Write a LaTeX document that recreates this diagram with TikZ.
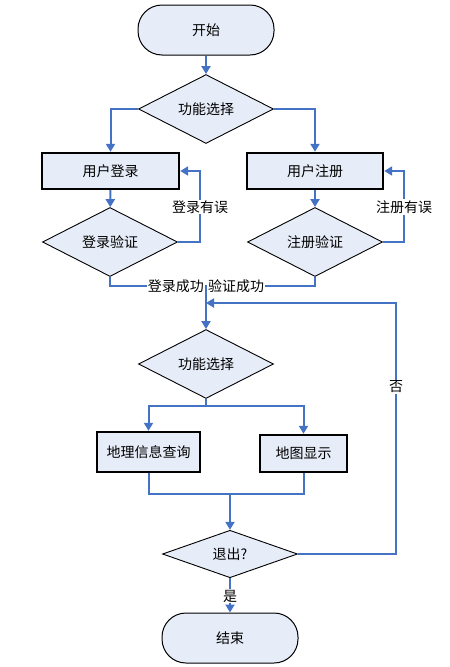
\documentclass[tikz,border=0pt]{standalone}
\usepackage{fontspec}
\setmainfont{Noto Sans CJK SC}
\usetikzlibrary{shapes.geometric,arrows.meta}
\definecolor{flowblue}{RGB}{68,114,196}
\definecolor{boxfill}{RGB}{231,237,248}

\begin{document}
\begin{tikzpicture}[x=1pt,y=-1pt,font=\fontsize{14}{16}\selectfont,
	term/.style={draw,line width=1,fill=boxfill,rounded corners=24,minimum width=136,minimum height=50},
	proc/.style={draw,line width=2.4,fill=boxfill,minimum height=36},
	cond/.style={draw,line width=0.9,fill=boxfill,diamond,inner sep=0,minimum width=135},
	link/.style={draw=flowblue,line width=2},
	flow/.style={link,-{Triangle[length=8,width=9]}},
	tag/.style={fill=white,inner sep=1}]
	\useasboundingbox (0,0) rectangle (450,667);
	% nodes
	\node[term] (start) at (206,30) {开始};
	\node[cond,minimum height=58] (sel1) at (206,109) {功能选择};
	\node[proc,minimum width=137] (login) at (110.5,171) {用户登录};
	\node[proc,minimum width=136] (reg) at (315,171) {用户注册};
	\node[cond,minimum height=52] (chkL) at (110,242) {登录验证};
	\node[cond,minimum height=52] (chkR) at (315,242) {注册验证};
	\node[cond,minimum height=46] (sel2) at (206,364) {功能选择};
	\node[proc,minimum width=103,minimum height=40] (query) at (148.5,452) {地理信息查询};
	\node[proc,minimum width=87,minimum height=37] (show) at (303.5,453.5) {地图显示};
	\node[cond,minimum height=46] (quit) at (230,554) {退出?};
	\node[term] (stop) at (230,638) {结束};
	% free points
	\coordinate (errL) at (200,207);
	\coordinate (errR) at (404,207);
	\coordinate (ok) at (206,286);
	\coordinate (back) at (206,303);
	\coordinate (no) at (396,387);
	\coordinate (split) at (206,406);
	\coordinate (merge) at (230,494);
	% connectors
	\draw[flow] (start) -- (sel1);
	\draw[flow] (sel1.west) -| (login.north);
	\draw[flow] (sel1.east) -| (reg.north);
	\draw[flow] (login) -- (chkL);
	\draw[flow] (reg) -- (chkR);
	\draw[flow] (chkL.east) -| (errL) |- (login.east);
	\draw[flow] (chkR.east) -| (errR) |- (reg.east);
	\draw[link] (chkL.south) |- (ok) -| (chkR.south);
	\draw[flow] (ok) -- (sel2);
	\draw[link] (sel2.south) -- (split);
	\draw[flow] (split) -| (query.north);
	\draw[flow] (split) -| (show.north);
	\draw[link] (query.south) |- (merge);
	\draw[link] (show.south) |- (merge);
	\draw[flow] (merge) -- (quit);
	\draw[flow] (quit.east) -| (no) |- (back);
	\draw[flow] (quit) -- (stop);
	% labels
	\node[tag] at (errL) {登录有误};
	\node[tag] at (errR) {注册有误};
	\node[tag,anchor=east] at (205,286) {登录成功};
	\node[tag,anchor=west] at (207,286) {验证成功};
	\node[tag] at (no) {否};
	\node[tag] at (230,596) {是};
\end{tikzpicture}
\end{document}
